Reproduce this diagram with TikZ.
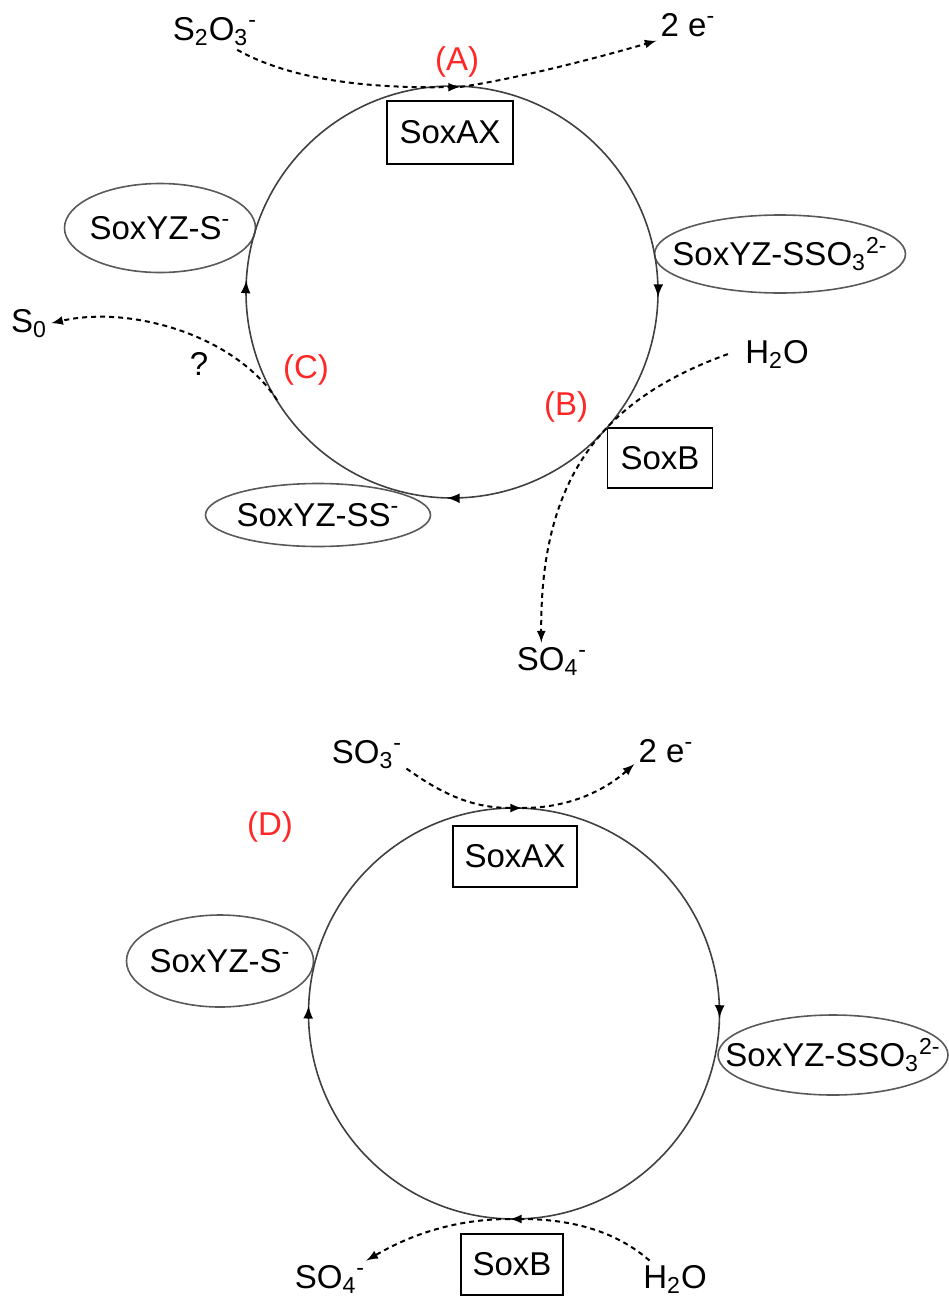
\documentclass[tikz,border=0pt]{standalone}
\usepackage{fontspec}
\setmainfont{Liberation Sans}
\usetikzlibrary{shapes.geometric,decorations.markings}
\definecolor{labred}{RGB}{255,40,40}
\newcommand{\ringtip}{\arrow[black, line width=1.2pt]{latex}}

\begin{document}
\begin{tikzpicture}[x=0.5pt, y=0.5pt,
		txt/.style={anchor=base, inner sep=2pt, font=\fontsize{16.5}{19}\selectfont},
		tag/.style={txt, text=labred},
		enz/.style={draw, line width=0.9pt, inner sep=0pt, font=\fontsize{16.5}{19}\selectfont},
		yz/.style={ellipse, draw=black!65, line width=0.8pt, inner xsep=-40pt, inner ysep=-15pt, font=\fontsize{16.5}{19}\selectfont},
		flux/.style={-latex, line width=1pt, dash pattern=on 2.5pt off 2pt},
		ring/.style={draw=black!75, line width=0.8pt, postaction={decorate}}]
		\useasboundingbox (0,0) rectangle (948,-1301);

		\node[txt] (s2o3) at (215,-40) {S\textsubscript{2}O\textsubscript{3}\textsuperscript{-}};
		\node[txt] (e2) at (688,-36) {2 e\textsuperscript{-}};
		\node[tag] (tA) at (457,-70) {(A)};
		\node[enz, minimum width=63pt, minimum height=31.5pt] (axA) at (450,-132.5) {SoxAX};
		\node[yz, minimum width=95.5pt, minimum height=44.5pt] (yzsA) at (160,-228) {SoxYZ-S\textsuperscript{-}};
		\node[yz, minimum width=125.5pt, minimum height=39pt] (yzssoA) at (780,-254) {SoxYZ-SSO\textsubscript{3}\textsuperscript{2-}};
		\node[yz, minimum width=112.5pt, minimum height=31.5pt] (yzssA) at (318,-515) {SoxYZ-SS\textsuperscript{-}};
		\node[txt] (s0) at (29,-332) {S\textsubscript{0}};
		\node[txt] (qm) at (199,-375) {?};
		\node[tag] (tC) at (306,-378) {(C)};
		\node[tag] (tB) at (566,-415) {(B)};
		\node[txt] (h2oA) at (777,-363) {H\textsubscript{2}O};
		\node[enz, minimum width=52.5pt, minimum height=30pt] (bA) at (660,-458) {SoxB};
		\node[txt] (so4A) at (552,-670) {SO\textsubscript{4}\textsuperscript{-}};

		\coordinate (cA) at (452,-292);
		\coordinate (pA) at (460,-87);
		\coordinate (pC) at (277,-400);
		\draw[ring, decoration={markings, mark=at position 0.254 with {\ringtip}, mark=at position 0.504 with {\ringtip}, mark=at position 0.759 with {\ringtip}}] ([shift={(90:103pt)}]cA) arc[start angle=90, end angle=-270, radius=103pt];
		\draw[flux] (s2o3.-40) .. controls (300,-85) and (390,-88) .. (pA);
		\draw[flux] (pA) .. controls (510,-80) and (590,-60) .. (e2.207);
		\draw[flux] (pC) .. controls (235,-335) and (130,-305) .. (s0.east);
		\draw[flux] ([xshift=-6.5pt]h2oA.west) .. controls (600,-400) and (540,-480) .. (so4A.120);

		\node[txt] (so3B) at (367,-763) {SO\textsubscript{3}\textsuperscript{-}};
		\node[txt] (e2B) at (666,-762) {2 e\textsuperscript{-}};
		\node[tag] (tD) at (270,-835) {(D)};
		\node[enz, minimum width=62pt, minimum height=30.5pt] (axB) at (515,-856.5) {SoxAX};
		\node[yz, minimum width=93.5pt, minimum height=46pt] (yzsB) at (220,-961) {SoxYZ-S\textsuperscript{-}};
		\node[yz, minimum width=115pt, minimum height=40pt] (yzssoB) at (833,-1055) {SoxYZ-SSO\textsubscript{3}\textsuperscript{2-}};
		\node[enz, minimum width=51pt, minimum height=30.5pt] (bB) at (512,-1264.5) {SoxB};
		\node[txt] (so4B) at (330,-1288) {SO\textsubscript{4}\textsuperscript{-}};
		\node[txt] (h2oB) at (675,-1288) {H\textsubscript{2}O};

		\coordinate (cB) at (514,-1013.5);
		\coordinate (pD) at (522,-808);
		\coordinate (pE) at (510,-1219);
		\draw[ring, decoration={markings, mark=at position 0.2535 with {\ringtip}, mark=at position 0.756 with {\ringtip}}] ([shift={(90:102.75pt)}]cB) arc[start angle=90, end angle=-270, radius=102.75pt];
		\draw[flux] (so3B.-20) .. controls (450,-800) and (480,-808) .. (pD);
		\draw[flux] (pD) .. controls (570,-808) and (605,-790) .. (e2B.203);
		\draw[flux] (h2oB.144) .. controls (610,-1226) and (560,-1219) .. (pE);
		\draw[flux] (pE) .. controls (455,-1219) and (410,-1235) .. (so4B.27);
	\end{tikzpicture}
\end{document}
